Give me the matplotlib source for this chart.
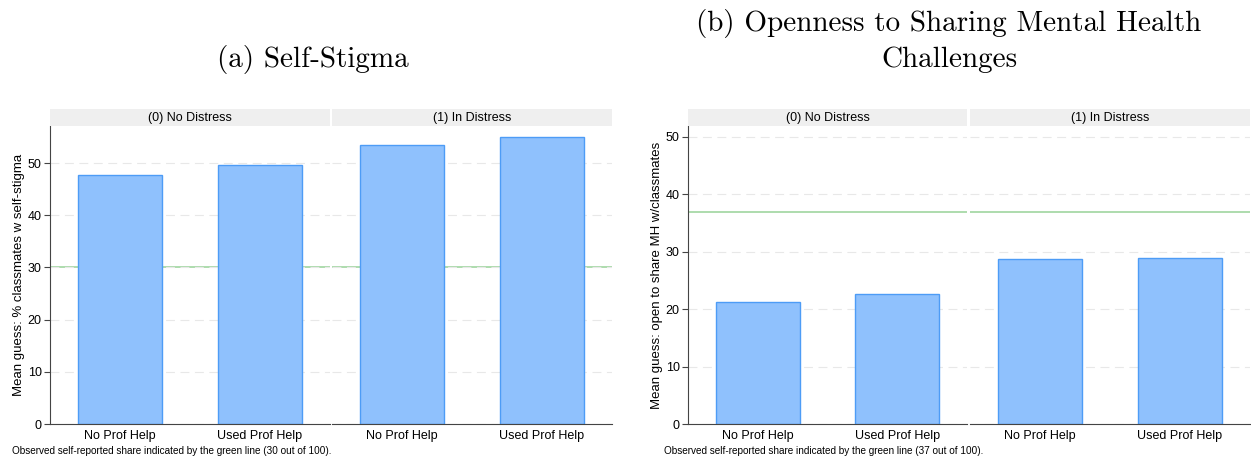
import matplotlib
matplotlib.use("Agg")
import matplotlib.pyplot as plt
from matplotlib.patches import Rectangle

plt.rcParams['font.family'] = ['Liberation Sans', 'DejaVu Sans']

W, H = 1251, 461

groups = ["(0) No Distress", "(1) In Distress"]
help_labels = ["No Prof Help", "Used Prof Help"]

# mean guesses per distress group: [no prof help, used prof help]
stigma_means = [[47.7, 49.6], [53.4, 55.0]]
share_means = [[21.3, 22.7], [28.7, 28.9]]

stigma_observed = 30
share_observed = 37

bar_face = "#8fc1fd"
bar_edge = "#4d9cf6"
green = "#9fd69f"
grid_col = "#e8e8e8"


def px_axes(fig, x0, x1, y0, y1):
    # pixel box (top-left origin) -> figure axes
    return fig.add_axes([x0 / W, 1 - y1 / H, (x1 - x0) / W, (y1 - y0) / H])


def facet_panel(fig, xs, means, observed, ymax, ylabel, footer, footer_x):
    axes = []
    for i, (x0, x1) in enumerate(xs):
        ax = px_axes(fig, x0, x1, 126, 424)
        ax.bar([1, 2], means[i], width=0.6, color=bar_face,
               edgecolor=bar_edge, linewidth=1.0, zorder=2)
        ax.axhline(observed, color=green, lw=1.2, zorder=1)
        ax.set_xlim(0.5, 2.5)
        ax.set_ylim(0, ymax)
        ax.set_yticks(range(0, int(ymax) + 1, 10))
        ax.grid(axis='y', color=grid_col, ls=(0, (8, 5)), lw=0.8, zorder=0)
        ax.set_xticks([1, 2])
        ax.set_xticklabels(help_labels, fontsize=9)
        ax.tick_params(axis='x', length=0, pad=4)
        for s in ['top', 'right']:
            ax.spines[s].set_visible(False)
        ax.spines['bottom'].set_color('#444444')
        if i == 0:
            ax.spines['left'].set_color('#444444')
            ax.tick_params(axis='y', labelsize=9, length=4, width=0.8,
                           color='#444444', pad=2)
            ax.set_ylabel(ylabel, fontsize=9.5, labelpad=2)
        else:
            ax.spines['left'].set_visible(False)
            ax.tick_params(axis='y', left=False, labelleft=False)
        # facet strip
        sax = px_axes(fig, x0, x1, 109, 126)
        sax.add_patch(Rectangle((0, 0), 1, 1, color="#efefef",
                                transform=sax.transAxes))
        sax.text(0.5, 0.5, groups[i], ha='center', va='center', fontsize=9)
        sax.set_axis_off()
        axes.append(ax)
    fig.text(footer_x / W, 1 - 451 / H, footer, fontsize=7.2,
             ha='left', va='center')
    return axes


fig = plt.figure(figsize=(W / 100, H / 100), dpi=100)

facet_panel(fig, [(50, 330), (332, 612)], stigma_means, stigma_observed, 57.1,
            "Mean guess: % classmates w self-stigma",
            "Observed self-reported share indicated by the green line (30 out of 100).",
            12)
facet_panel(fig, [(688, 967), (970, 1250)], share_means, share_observed, 51.9,
            "Mean guess: open to share MH w/classmates",
            "Observed self-reported share indicated by the green line (37 out of 100).",
            664)

fig.text(313 / W, 1 - 60 / H, "(a) Self-Stigma", family='cmr10', fontsize=21,
         ha='center', va='center')
fig.text(949 / W, 1 - 41 / H, "(b) Openness to Sharing Mental Health\nChallenges",
         family='cmr10', fontsize=21, ha='center', va='center', linespacing=1.4)

fig.savefig("out.png", dpi=100)
